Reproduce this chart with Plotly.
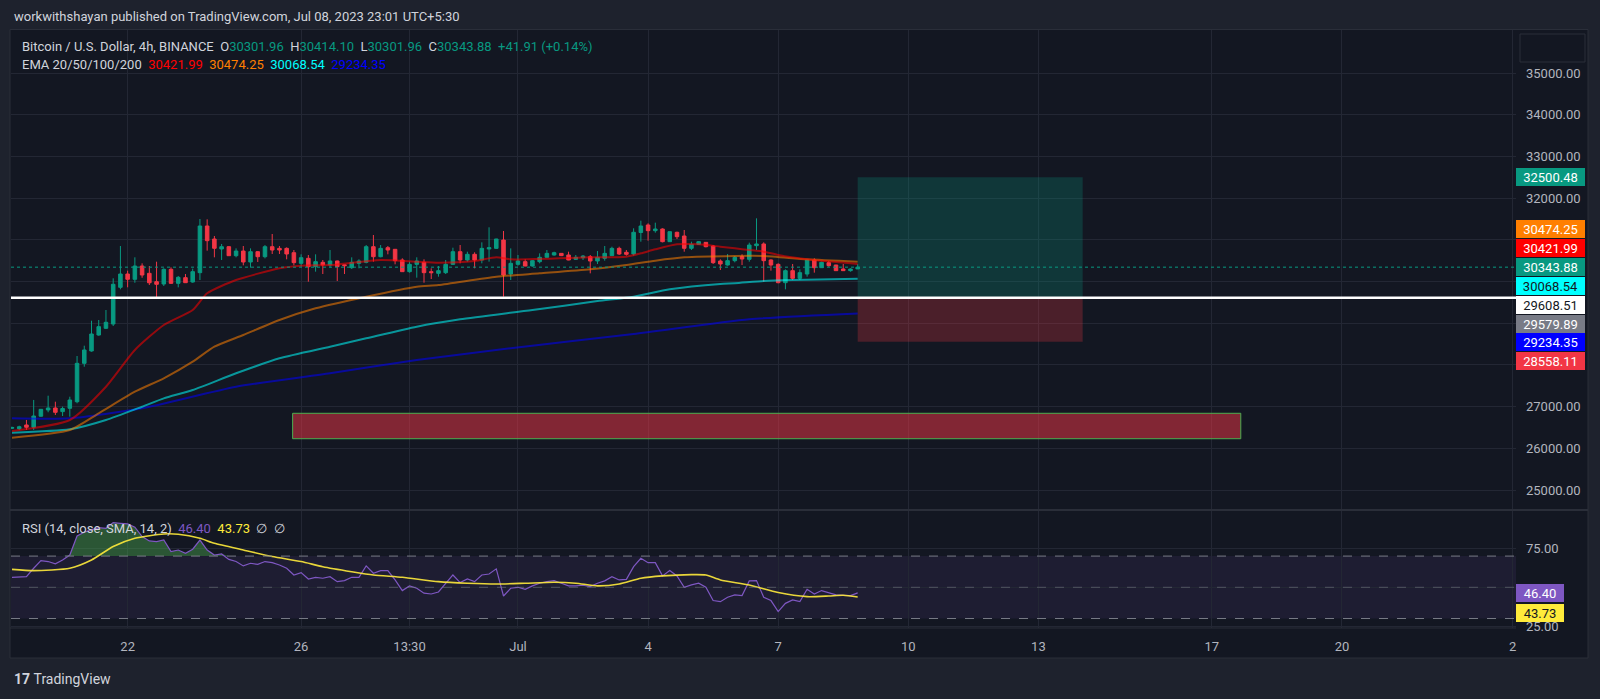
import pandas as pd
import plotly.graph_objects as go

# ---------------- data ----------------
start_time = "2023-06-19 09:30"
n_candles = 118

opens = [26480, 26470, 26560, 26505, 26770, 26920, 26967, 26880, 26960, 27118,
         28038, 28334, 28717, 28878, 28981, 29861, 30180, 30053, 30372, 30196,
         29996, 29940, 30292, 29956, 30092, 29988, 30212, 31331, 31019, 30780,
         30835, 30619, 30731, 30468, 30715, 30595, 30835, 30795, 30795, 30691,
         30436, 30556, 30356, 30460, 30396, 30492, 30400, 30332, 30436, 30460,
         30835, 30595, 30811, 30772, 30516, 30236, 30412, 30460, 30236, 30196,
         30212, 30412, 30715, 30516, 30652, 30516, 30780, 30795, 30995, 30180,
         30412, 30476, 30372, 30476, 30580, 30636, 30675, 30636, 30532, 30572,
         30595, 30492, 30556, 30620, 30795, 30700, 30660, 31175, 31355, 31219,
         31259, 30955, 31180, 31091, 30796, 30891, 30939, 30851, 30492, 30396,
         30500, 30595, 30532, 30860, 30900, 30516, 30412, 29972, 30260, 30076,
         30180, 30516, 30332, 30452, 30396, 30300, 30260, 30301.96]
highs = [26520, 26542, 26680, 27160, 26940, 27262, 27118, 27000, 27238, 28214,
         28461, 29060, 29077, 29317, 30077, 30851, 30260, 30580, 30436, 30372,
         30475, 30317, 30340, 30132, 30180, 30308, 31499, 31491, 31091, 30900,
         30851, 30795, 30851, 30795, 30730, 30875, 31139, 30851, 30819, 30755,
         30652, 30636, 30652, 30516, 30755, 30500, 30405, 30580, 30532, 30875,
         31115, 30875, 30851, 30780, 30556, 30476, 30580, 30532, 30316, 30372,
         30516, 30811, 30875, 30715, 30700, 30939, 31300, 31025, 31211, 30795,
         30636, 30532, 30516, 30675, 30755, 30715, 30680, 30715, 30636, 30636,
         30636, 30731, 30851, 30835, 30835, 30755, 31276, 31459, 31395, 31411,
         31275, 31200, 31195, 31235, 30955, 30971, 30945, 30875, 30532, 30660,
         30611, 30652, 30931, 31515, 30939, 30532, 30436, 30292, 30420, 30292,
         30520, 30556, 30476, 30492, 30400, 30420, 30316, 30414.10]
lows = [26460, 26440, 26440, 26440, 26760, 26865, 26800, 26775, 26758, 27080,
        27957, 28317, 28700, 28860, 28933, 29813, 29861, 29970, 30090, 29916,
        29620, 29892, 29940, 29860, 29965, 29972, 30036, 30740, 30580, 30516,
        30611, 30580, 30388, 30332, 30468, 30555, 30660, 30660, 30532, 30388,
        30356, 29996, 30236, 30180, 30332, 30012, 30180, 30300, 30316, 30436,
        30476, 30580, 30652, 30412, 30230, 30212, 30092, 29972, 30060, 30116,
        30180, 30396, 30436, 30476, 30316, 30436, 30476, 30780, 29636, 30036,
        30380, 30365, 30356, 30436, 30575, 30620, 30610, 30510, 30516, 30516,
        30196, 30420, 30500, 30615, 30636, 30620, 30620, 30955, 30979, 31171,
        30939, 30950, 31019, 30715, 30755, 30875, 30819, 30420, 30276, 30380,
        30460, 30396, 30476, 30755, 29996, 30260, 29956, 29812, 30036, 30036,
        30116, 30212, 30325, 30356, 30255, 30255, 30236, 30301.96]
closes = [26500, 26517, 26505, 26775, 26935, 26967, 26863, 26955, 27159, 28038,
          28358, 28741, 28917, 29022, 29933, 30180, 30053, 30372, 30156, 29970,
          29933, 30292, 29956, 30100, 29972, 30236, 31331, 30979, 30796, 30835,
          30619, 30731, 30468, 30715, 30595, 30835, 30755, 30755, 30660, 30452,
          30571, 30356, 30476, 30396, 30492, 30356, 30380, 30460, 30492, 30835,
          30595, 30795, 30755, 30500, 30236, 30412, 30492, 30212, 30212, 30260,
          30412, 30715, 30516, 30652, 30516, 30795, 30811, 31019, 30156, 30436,
          30492, 30372, 30500, 30580, 30675, 30691, 30620, 30516, 30580, 30610,
          30492, 30580, 30675, 30795, 30660, 30652, 31180, 31331, 31219, 31259,
          30955, 31195, 31075, 30796, 30891, 30955, 30835, 30452, 30420, 30500,
          30580, 30540, 30875, 30900, 30500, 30396, 29972, 30260, 30076, 30212,
          30516, 30332, 30460, 30380, 30260, 30260, 30300, 30343.88]
change_abs = 41.91
change_pct = 0.14

# EMA readings (candle index -> value)
ema20_idx = [0, 8, 13, 17, 21, 25, 27, 31, 37, 40, 44, 51, 56, 59, 64, 67, 69, 80, 85, 87,
             89, 92, 95, 98, 100, 102, 104, 106, 110, 117]
ema20_val = [26415, 26679, 27477, 28358, 28957, 29317, 29717, 30036, 30316, 30380, 30396,
             30516, 30476, 30452, 30492, 30580, 30532, 30580, 30596, 30676, 30772, 30892,
             30892, 30835, 30796, 30756, 30716, 30636, 30532, 30421.99]
ema50_idx = [0, 8, 12, 17, 21, 25, 28, 32, 37, 42, 49, 56, 59, 67, 73, 80, 85, 89, 93, 100,
             104, 110, 117]
ema50_val = [26255, 26439, 26839, 27357, 27679, 28077, 28437, 28717, 29077, 29357, 29636,
             29876, 29916, 30116, 30196, 30292, 30396, 30500, 30580, 30612, 30612, 30532,
             30474.25]
ema100_idx = [0, 8, 13, 18, 21, 25, 31, 37, 44, 49, 56, 62, 72, 81, 86, 91, 98, 100, 104,
              108, 117]
ema100_val = [26375, 26455, 26679, 26998, 27197, 27398, 27799, 28159, 28437, 28638, 28917,
              29094, 29317, 29530, 29636, 29813, 29940, 29957, 30012, 30036, 30068.54]
ema200_idx = [0, 8, 18, 31, 44, 56, 69, 86, 102, 117]
ema200_val = [26719, 26719, 26959, 27477, 27799, 28118, 28400, 28740, 29094, 29234.35]

# RSI(14) per candle and its SMA(14)
rsi_vals = [56.4, 56.6, 56.8, 62.2, 67.1, 66.5, 65.0, 67.5, 70.7, 82.9,
            85.3, 86.8, 88.2, 87.8, 91.5, 91.0, 90.6, 88.5, 82.5, 79.7,
            79.3, 80.3, 72.9, 73.9, 71.8, 74.4, 80.3, 73.9, 70.7, 71.4,
            67.9, 66.5, 63.7, 65.4, 64.7, 66.5, 65.8, 64.3, 62.2, 57.9,
            59.4, 55.3, 56.4, 55.8, 56.8, 53.6, 54.3, 56.4, 56.4, 63.7,
            59.0, 60.7, 60.7, 54.7, 47.9, 50.9, 49.4, 46.2, 45.7, 47.0,
            52.6, 57.9, 53.0, 55.3, 53.6, 57.9, 58.5, 61.8, 44.4, 49.4,
            50.0, 48.7, 50.9, 52.6, 53.6, 54.3, 52.6, 50.9, 50.9, 51.3,
            50.4, 52.6, 54.1, 56.8, 54.7, 55.1, 63.2, 68.6, 65.8, 65.8,
            57.3, 60.7, 57.3, 50.0, 51.5, 52.6, 50.0, 41.5, 40.8, 43.6,
            45.1, 44.7, 54.1, 54.3, 43.6, 41.5, 34.4, 39.7, 41.9, 40.8,
            48.7, 45.7, 47.9, 46.6, 45.1, 44.9, 44.7, 46.40]
rsi_sma_idx = [0, 3, 8, 11, 14, 17, 21, 23, 26, 28, 32, 36, 40, 43, 47, 50, 54, 59, 63, 67,
               71, 75, 78, 81, 84, 87, 90, 94, 96, 98, 102, 106, 110, 113, 115, 117]
rsi_sma_val = [61.5, 60.7, 62.2, 67.5, 76.1, 81.4, 84.2, 84.0, 81.4, 78.2, 73.9, 69.7, 66.5,
               63.2, 60.0, 57.9, 56.4, 53.6, 52.6, 52.1, 52.6, 53.2, 52.6, 50.9, 52.1, 55.8,
               57.3, 58.1, 57.9, 54.7, 51.5, 46.6, 44.0, 44.4, 44.9, 43.73]

# levels / drawings
entry_price = 29608.51
target_price = 32500.48
stop_price = 28558.11
other_level = 29579.89
pos_start = "2023-07-08 21:30"
pos_end = "2023-07-14 02:00"
zone_start = "2023-06-25 20:48"
zone_end = "2023-07-17 17:30"
zone_low = 26230
zone_high = 26840

x_range = ["2023-06-19 08:57", "2023-07-24 01:48"]
x_tick_dates = ["2023-06-22 01:30", "2023-06-26 01:30", "2023-06-28 13:30", "2023-07-01 01:30",
                "2023-07-04 01:30", "2023-07-07 01:30", "2023-07-10 01:30", "2023-07-13 01:30",
                "2023-07-17 01:30", "2023-07-20 01:30", "2023-07-24 00:00"]
x_tick_text = ["22", "26", "13:30", "Jul", "4", "7", "10", "13", "17", "20", "2"]
price_ticks = [25000, 26000, 27000, 28000, 29000, 30000, 31000, 32000, 33000, 34000, 35000]
price_hidden = [28000, 29000, 30000, 31000]   # labels covered by the price tags
price_range = [24521, 36031]
rsi_ticks = [25, 50, 75]
rsi_hidden = [50]
rsi_range = [23.9, 99.55]
rsi_upper, rsi_mid, rsi_lower = 70, 50, 30

# ---------------- layout helpers ----------------
W, H = 1600, 699
ML, MR, MT, MB = 11, 84, 30, 71
PW = W - ML - MR
PH = H - MT - MB
def px(x):
    return (x - ML) / PW
def py(y):
    return (H - MB - y) / PH
split = py(510)

FONT = "Roboto, 'Liberation Sans', sans-serif"
BG = "#131722"
OUTER = "#1e222d"
GRID = "#232734"
TXT = "#b2b5be"
UP, DN = "#089981", "#f23645"
C20, C50, C100, C200 = "#ff0000", "#ff7f00", "#00ffff", "#0000ff"
RSI_C, SMA_C = "#7e57c2", "#ffeb3b"

times = pd.date_range(start_time, periods=n_candles, freq="4h")

fig = go.Figure()

# EMAs
for idx, val, col in [(ema200_idx, ema200_val, C200), (ema100_idx, ema100_val, C100),
                      (ema50_idx, ema50_val, C50), (ema20_idx, ema20_val, C20)]:
    fig.add_trace(go.Scatter(x=[times[i] for i in idx], y=val, mode="lines",
                             line=dict(color=col, width=2, shape="spline", smoothing=0.6),
                             opacity=0.55, xaxis="x", yaxis="y", showlegend=False,
                             hoverinfo="skip"))

fig.add_trace(go.Candlestick(
    x=times, open=opens, high=highs, low=lows, close=closes,
    increasing=dict(line=dict(color=UP, width=1), fillcolor=UP),
    decreasing=dict(line=dict(color=DN, width=1), fillcolor=DN),
    whiskerwidth=0, xaxis="x", yaxis="y", showlegend=False, hoverinfo="skip"))

# RSI overbought fill
fig.add_trace(go.Scatter(x=times, y=[rsi_upper] * n_candles, mode="lines",
                         line=dict(width=0, color="rgba(0,0,0,0)"), xaxis="x2", yaxis="y2",
                         showlegend=False, hoverinfo="skip"))
fig.add_trace(go.Scatter(x=times, y=[max(v, rsi_upper) for v in rsi_vals], mode="lines",
                         line=dict(width=0, color="rgba(0,0,0,0)"), fill="tonexty",
                         fillcolor="rgba(76,175,80,0.42)", xaxis="x2", yaxis="y2",
                         showlegend=False, hoverinfo="skip"))
fig.add_trace(go.Scatter(x=times, y=rsi_vals, mode="lines", line=dict(color=RSI_C, width=1.2),
                         xaxis="x2", yaxis="y2", showlegend=False, hoverinfo="skip"))
fig.add_trace(go.Scatter(x=[times[i] for i in rsi_sma_idx], y=rsi_sma_val, mode="lines",
                         line=dict(color=SMA_C, width=1.6, shape="spline", smoothing=0.6),
                         opacity=0.9, xaxis="x2", yaxis="y2", showlegend=False,
                         hoverinfo="skip"))

shapes = []
# outer frame
shapes.append(dict(type="rect", xref="paper", yref="paper", x0=px(10), x1=px(1588),
                   y0=py(658), y1=py(29.5), fillcolor=BG, line=dict(color="#2a2e39", width=1),
                   layer="below"))
# pane separators
shapes.append(dict(type="line", xref="paper", yref="paper", x0=px(10), x1=px(1588),
                   y0=py(510), y1=py(510), line=dict(color="#2a2e39", width=2)))
shapes.append(dict(type="line", xref="paper", yref="paper", x0=px(10), x1=px(1516),
                   y0=py(628), y1=py(628), line=dict(color="#2a2e39", width=1)))
# top right box
shapes.append(dict(type="rect", xref="paper", yref="paper", x0=px(1520), x1=px(1585),
                   y0=py(62), y1=py(34), fillcolor=BG, line=dict(color="#2a2e39", width=1)))
# RSI band and lines
shapes.append(dict(type="rect", xref="x2 domain", yref="y2", x0=0, x1=1, y0=rsi_lower,
                   y1=rsi_upper, fillcolor="rgba(126,87,194,0.1)", line=dict(width=0),
                   layer="below"))
for lv, col in [(rsi_upper, "#787b86"), (rsi_lower, "#787b86"), (rsi_mid, "rgba(120,123,134,0.55)")]:
    shapes.append(dict(type="line", xref="x2 domain", yref="y2", x0=0, x1=1, y0=lv, y1=lv,
                       line=dict(color=col, width=1, dash="dash")))
# position box
shapes.append(dict(type="rect", xref="x", yref="y", x0=pos_start, x1=pos_end,
                   y0=entry_price, y1=target_price, fillcolor="rgba(8,153,129,0.25)",
                   line=dict(width=0)))
shapes.append(dict(type="rect", xref="x", yref="y", x0=pos_start, x1=pos_end,
                   y0=stop_price, y1=entry_price, fillcolor="rgba(242,54,69,0.25)",
                   line=dict(width=0)))
# red zone
shapes.append(dict(type="rect", xref="x", yref="y", x0=zone_start, x1=zone_end,
                   y0=zone_low, y1=zone_high, fillcolor="rgba(242,54,69,0.5)",
                   line=dict(color="#4caf50", width=1)))
# horizontal lines
shapes.append(dict(type="line", xref="x domain", yref="y", x0=0, x1=1, y0=entry_price,
                   y1=entry_price, line=dict(color="#ffffff", width=2.5)))
shapes.append(dict(type="line", xref="x domain", yref="y", x0=0, x1=1, y0=closes[-1],
                   y1=closes[-1], line=dict(color=UP, width=1, dash="dot")))

ann = []
def text_ann(x, y, text, size=13, color=TXT):
    ann.append(dict(x=px(x), y=py(y), xref="paper", yref="paper", text=text, showarrow=False,
                    xanchor="left", yanchor="middle", font=dict(size=size, color=color, family=FONT)))

def sp(col, t):
    return "<span style='color:%s'>%s</span>" % (col, t)

NB = "\u00a0"
text_ann(12, 16, "workwithshayan published on TradingView.com, Jul 08, 2023 23:01 UTC+5:30",
         13, "#d1d4dc")
line1 = ("Bitcoin / U.S. Dollar, 4h, BINANCE" + NB * 2 + "O" + sp(UP, "%.2f" % opens[-1]) +
         NB * 2 + "H" + sp(UP, "%.2f" % highs[-1]) + NB * 2 + "L" + sp(UP, "%.2f" % lows[-1]) +
         NB * 2 + "C" + sp(UP, "%.2f" % closes[-1]) + NB * 2 +
         sp(UP, "+%.2f (+%.2f%%)" % (change_abs, change_pct)))
text_ann(20, 47, line1, 13, "#d1d4dc")
line2 = ("EMA 20/50/100/200" + NB * 2 + sp(C20, "%.2f" % ema20_val[-1]) + NB * 2 +
         sp(C50, "%.2f" % ema50_val[-1]) + NB * 2 + sp(C100, "%.2f" % ema100_val[-1]) +
         NB * 2 + sp(C200, "%.2f" % ema200_val[-1]))
text_ann(20, 65, line2, 13, "#d1d4dc")
line3 = ("RSI (14, close, SMA, 14, 2)" + NB * 2 + sp(RSI_C, "%.2f" % rsi_vals[-1]) + NB * 2 +
         sp(SMA_C, "%.2f" % rsi_sma_val[-1]) + NB * 2 + "\u2205" + NB * 2 + "\u2205")
text_ann(20, 528, line3, 13, "#d1d4dc")
text_ann(12, 679, "<b>17</b>" + NB + "TradingView", 14, "#d1d4dc")

def tag(value, bg, fg, yc, x0=1516, x1=1585):
    ann.append(dict(x=px((x0 + x1) / 2), y=py(yc), xref="paper", yref="paper",
                    text="%.2f" % value, showarrow=False, xanchor="center", yanchor="middle",
                    font=dict(size=13, color=fg, family=FONT), bgcolor=bg,
                    width=x1 - x0 - 4, height=14, borderpad=1, borderwidth=1, bordercolor=bg))

tag(target_price, UP, "#ffffff", 176.7)
tag(ema50_val[-1], C50, "#ffffff", 229.2)
tag(ema20_val[-1], C20, "#ffffff", 248.3)
tag(closes[-1], UP, "#ffffff", 267.2)
tag(ema100_val[-1], C100, "#131722", 286.2)
tag(entry_price, "#ffffff", "#131722", 305.2)
tag(other_level, "#787b86", "#ffffff", 324.0)
tag(ema200_val[-1], C200, "#ffffff", 342.2)
tag(stop_price, DN, "#ffffff", 361.2)
tag(rsi_vals[-1], RSI_C, "#ffffff", 593.3, 1516, 1564)
tag(rsi_sma_val[-1], SMA_C, "#131722", 612.5, 1516, 1564)

axis_font = dict(size=13, color=TXT, family=FONT)
fig.update_layout(
    width=W, height=H,
    margin=dict(l=ML, r=MR, t=MT, b=MB, pad=0),
    paper_bgcolor=OUTER, plot_bgcolor="rgba(0,0,0,0)",
    hovermode=False, showlegend=False,
    shapes=shapes, annotations=ann,
    xaxis=dict(domain=[0, 1], anchor="y", type="date", range=x_range, tickvals=x_tick_dates,
               ticktext=x_tick_text, showticklabels=False, showgrid=True, gridcolor=GRID,
               zeroline=False, showline=False, ticks="", rangeslider=dict(visible=False),
               fixedrange=True),
    xaxis2=dict(domain=[0, 1], anchor="y2", type="date", matches="x", range=x_range,
                tickvals=x_tick_dates, ticktext=x_tick_text, showticklabels=True,
                tickfont=axis_font, showgrid=True, gridcolor=GRID, zeroline=False,
                showline=False, ticks="", ticklabelstandoff=9),
    yaxis=dict(domain=[split, 1], anchor="x", side="right", range=price_range,
               tickvals=price_ticks,
               ticktext=["" if v in price_hidden else "%.2f" % v for v in price_ticks],
               tickfont=axis_font, showgrid=True, gridcolor=GRID, zeroline=False,
               showline=False, ticks="", ticklabelstandoff=9),
    yaxis2=dict(domain=[0, split], anchor="x2", side="right", range=rsi_range,
                tickvals=rsi_ticks,
                ticktext=["" if v in rsi_hidden else "%.2f" % v for v in rsi_ticks],
                tickfont=axis_font, showgrid=True, gridcolor=GRID, zeroline=False,
                showline=False, ticks="", ticklabelstandoff=9),
)

fig.write_html("out.html", config={"displayModeBar": False},
               post_script="document.body.style.margin='0px';document.body.style.overflow='hidden';")
